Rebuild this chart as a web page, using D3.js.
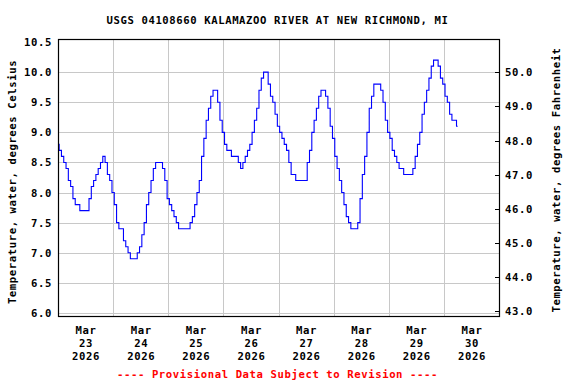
<!DOCTYPE html>
<html>
<head>
<meta charset="utf-8">
<title>USGS 04108660</title>
<script src="https://cdn.jsdelivr.net/npm/d3@7"></script>
<style>
    body { margin: 0; background: #fff; }
    text { font-family: "DejaVu Sans Mono", monospace; font-weight: bold; font-size: 10.6px; letter-spacing: 0.6px; }
</style>
</head>
<body>
<svg width="576" height="384" id="mainsvg"></svg>
<script>
    // hourly water temperature (deg C), starting Mar 23 2026 00:00
    const startTime = new Date(2026, 2, 23, 0, 0);
    const tempC = [
        8.8, 8.7, 8.6, 8.5, 8.4, 8.2, 8.1, 7.9, 7.8, 7.8, 7.7, 7.7, 7.7, 7.7, 7.9, 8.1,
        8.2, 8.3, 8.4, 8.5, 8.6, 8.5, 8.3, 8.2, 8.0, 7.8, 7.5, 7.4, 7.4, 7.2, 7.1, 7.0,
        6.9, 6.9, 6.9, 7.0, 7.1, 7.3, 7.5, 7.8, 8.0, 8.2, 8.4, 8.5, 8.5, 8.5, 8.4, 8.2,
        7.9, 7.8, 7.7, 7.6, 7.5, 7.4, 7.4, 7.4, 7.4, 7.4, 7.5, 7.6, 7.8, 8.0,
        8.2, 8.6, 8.9, 9.2, 9.4, 9.6, 9.7, 9.7, 9.5, 9.2, 9.0, 8.8, 8.7, 8.7, 8.6, 8.6,
        8.6, 8.5, 8.4, 8.5, 8.6, 8.7, 8.8, 9.0, 9.2, 9.4, 9.7, 9.9, 10.0, 10.0,
        9.8, 9.6, 9.5, 9.3, 9.1, 9.0, 8.9, 8.8, 8.7, 8.5, 8.3, 8.3, 8.2, 8.2, 8.2, 8.2,
        8.2, 8.5, 8.7, 9.0, 9.2, 9.4, 9.6, 9.7, 9.7, 9.6, 9.4, 9.1, 8.9, 8.6, 8.4,
        8.2, 8.0, 7.8, 7.6, 7.5, 7.4, 7.4, 7.4, 7.5, 7.9, 8.3, 8.6, 9.0, 9.4, 9.6, 9.8,
        9.8, 9.8, 9.7, 9.5, 9.2, 9.0, 8.9, 8.7, 8.6, 8.5, 8.4, 8.4, 8.3, 8.3, 8.3,
        8.3, 8.4, 8.6, 8.8, 9.0, 9.3, 9.5, 9.7, 9.9, 10.1, 10.2, 10.2, 10.1, 9.9, 9.8, 9.6,
        9.5, 9.3, 9.2, 9.2, 9.1
    ];
    const celsiusTicks = [6.0, 6.5, 7.0, 7.5, 8.0, 8.5, 9.0, 9.5, 10.0, 10.5];
    const fahrenheitTicks = [43, 44, 45, 46, 47, 48, 49, 50];
    const dayTicks = ["2026-03-23", "2026-03-24", "2026-03-25", "2026-03-26",
                      "2026-03-27", "2026-03-28", "2026-03-29", "2026-03-30"];

    const plot = {left: 58, right: 499, top: 39, bottom: 316};
    const svg = d3.select('#mainsvg');

    const x = d3.scaleTime()
        .domain([startTime, new Date(2026, 2, 31, 0, 0)])
        .range([plot.left, plot.right]);
    const y = d3.scaleLinear().domain([5.95, 10.55]).range([plot.bottom, plot.top]);
    const yF = d3.scaleLinear().domain([42.85, 50.98]).range([plot.bottom, plot.top]);

    const parseDay = d3.timeParse("%Y-%m-%d");
    const days = dayTicks.map(parseDay);

    // grid
    const grid = svg.append('g').attr('stroke', '#c8c8c8').attr('stroke-width', 1);
    grid.selectAll('line.h').data(celsiusTicks.filter(d => d < 10.5)).join('line')
        .attr('class', 'h')
        .attr('x1', plot.left).attr('x2', plot.right)
        .attr('y1', d => Math.round(y(d)) + 0.5).attr('y2', d => Math.round(y(d)) + 0.5);
    grid.selectAll('line.v').data(days.slice(1)).join('line')
        .attr('class', 'v')
        .attr('y1', plot.top).attr('y2', plot.bottom)
        .attr('x1', d => Math.round(x(d)) + 0.5).attr('x2', d => Math.round(x(d)) + 0.5);

    // data line
    const points = tempC.map((v, i) => ({t: d3.timeHour.offset(startTime, i), v: v}));
    const line = d3.line()
        .x(d => x(d.t))
        .y(d => y(d.v))
        .curve(d3.curveStep);
    svg.append('path')
        .datum(points)
        .attr('fill', 'none')
        .attr('stroke', '#0000ff')
        .attr('stroke-width', 1.1)
        .attr('d', line);

    // frame
    svg.append('rect')
        .attr('x', plot.left + 0.5).attr('y', plot.top + 0.5)
        .attr('width', plot.right - plot.left).attr('height', plot.bottom - plot.top)
        .attr('fill', 'none').attr('stroke', 'black').attr('stroke-width', 1.2);

    // left axis labels
    svg.append('g').selectAll('text').data(celsiusTicks).join('text')
        .attr('x', 52).attr('y', d => y(d) + 4)
        .attr('text-anchor', 'end')
        .text(d => d.toFixed(1));

    // right axis: inward ticks + labels
    const rAxis = svg.append('g');
    rAxis.selectAll('line').data(fahrenheitTicks).join('line')
        .attr('x1', plot.right - 4).attr('x2', plot.right)
        .attr('y1', d => Math.round(yF(d)) + 0.5).attr('y2', d => Math.round(yF(d)) + 0.5)
        .attr('stroke', 'black');
    rAxis.selectAll('text').data(fahrenheitTicks).join('text')
        .attr('x', 505).attr('y', d => yF(d) + 4)
        .text(d => d.toFixed(1));

    // x axis labels at noon of each day
    const fmtMon = d3.timeFormat("%b"), fmtDay = d3.timeFormat("%d"), fmtYear = d3.timeFormat("%Y");
    const xl = svg.append('g').selectAll('text').data(days).join('text')
        .attr('text-anchor', 'middle')
        .attr('transform', d => `translate(${x(d3.timeHour.offset(d, 12)) + 0.5},0)`);
    xl.append('tspan').attr('x', 0).attr('y', 334).text(d => fmtMon(d));
    xl.append('tspan').attr('x', 0).attr('y', 347).text(d => fmtDay(d));
    xl.append('tspan').attr('x', 0).attr('y', 360).text(d => fmtYear(d));

    // titles
    svg.append('text')
        .attr('x', 277.5).attr('y', 24)
        .attr('text-anchor', 'middle')
        .text('USGS 04108660 KALAMAZOO RIVER AT NEW RICHMOND, MI');
    svg.append('text')
        .attr('transform', 'translate(15.5,182) rotate(-90)')
        .attr('text-anchor', 'middle')
        .text('Temperature, water, degrees Celsius');
    svg.append('text')
        .attr('transform', 'translate(560,180) rotate(-90)')
        .attr('text-anchor', 'middle')
        .text('Temperature, water, degrees Fahrenheit');
    svg.append('text')
        .attr('x', 277.5).attr('y', 378)
        .attr('text-anchor', 'middle')
        .attr('fill', '#ff0000')
        .text('---- Provisional Data Subject to Revision ----');
</script>
</body>
</html>
